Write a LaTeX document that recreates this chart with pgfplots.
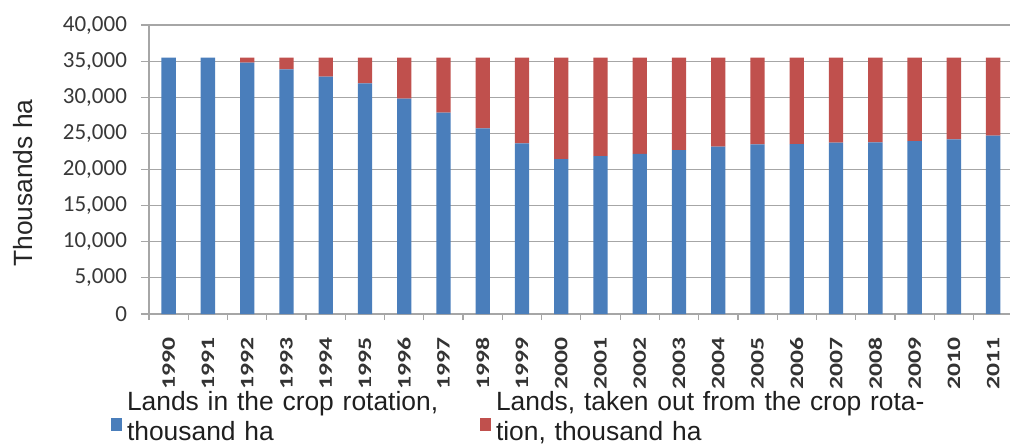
\documentclass[border=0pt]{standalone}
\usepackage{pgfplots}
\pgfplotsset{compat=1.18}
\usepackage{pgfplotstable}
\usepackage{fontspec}
\setmainfont{Liberation Sans}
\newfontfamily\carlito{Carlito}

\definecolor{barblue}{HTML}{4A7EBB}
\definecolor{barred}{HTML}{C0504D}
\definecolor{gridgray}{HTML}{A6A6A6}

\newcommand\yr[1]{\scalebox{1.35}[1]{#1}\kern4pt}

% year, lands in rotation, lands taken out (thousand ha)
\pgfplotstableread{
year inrot out
1990 35500 0
1991 35500 0
1992 34800 700
1993 33870 1630
1994 32850 2650
1995 31930 3570
1996 29800 5700
1997 27860 7640
1998 25700 9800
1999 23620 11880
2000 21450 14050
2001 21870 13630
2002 22150 13350
2003 22700 12800
2004 23160 12340
2005 23480 12020
2006 23530 11970
2007 23710 11790
2008 23760 11740
2009 23940 11560
2010 24180 11320
2011 24680 10820
}\landdata

\begin{document}
\begin{tikzpicture}
\pgfplotsset{
    sqlegend/.style={legend image code/.code={%
        \fill[##1] (0pt,-14.3pt) rectangle (5.5pt,-7.8pt);
        \path (8pt,-10pt);}}
}
\begin{axis}[
    name=ax, at={(0,0)}, anchor=south west,
    scale only axis, width=430.5pt, height=144.5pt,
    ybar stacked, bar width=7.15pt,
    xmin=-0.5, xmax=21.43, ymin=0, ymax=40000,
    axis x line*=bottom, axis y line*=left,
    axis line style={gridgray, line width=0.6pt},
    ymajorgrids, grid style={gridgray, line width=0.6pt},
    tick align=outside, major tick length=4pt, minor tick length=3pt,
    tick style={gridgray, line width=0.6pt},
    ytick={0,5000,...,40000}, scaled y ticks=false,
    yticklabel style={/pgf/number format/1000 sep={,}, /pgf/number format/assume math mode=true,
        font=\carlito\fontsize{11.5}{13}\selectfont, text=black!78, xshift=-3.5pt},
    xtick={0,...,21},
    xticklabels={\yr{1990},\yr{1991},\yr{1992},\yr{1993},\yr{1994},\yr{1995},\yr{1996},\yr{1997},
        \yr{1998},\yr{1999},\yr{2000},\yr{2001},\yr{2002},\yr{2003},\yr{2004},\yr{2005},
        \yr{2006},\yr{2007},\yr{2008},\yr{2009},\yr{2010},\yr{2011}},
    major x tick style={draw=none},
    minor xtick={-0.5,0.5,...,20.5},
    xticklabel style={rotate=90, anchor=east, font=\carlito\bfseries\fontsize{9.5}{10}\selectfont, text=black!80},
    every axis y label/.style={at={(axis description cs:-0.1463,0.453)}, rotate=90, anchor=center,
        font=\fontsize{13.2}{15}\selectfont, text=black!85},
    ylabel={Thousands ha},
    legend cell align=left,
    legend columns=2,
    legend style={at={(axis description cs:-0.0441,-0.2664)}, anchor=north west,
        draw=none, fill=none, inner sep=0pt, outer sep=0pt,
        font=\fontsize{13.2}{15}\selectfont, text=black!88,
        nodes={inner sep=0pt, align=left}},
]
\addplot[fill=barblue, draw=none, sqlegend] table[x expr=\coordindex, y=inrot] {\landdata};
\addlegendentry[text width=176.5pt]{Lands in the crop rotation,\\thousand ha}
\addplot[fill=barred, draw=none, sqlegend] table[x expr=\coordindex, y=out] {\landdata};
\addlegendentry[text width=230pt, xshift=4.5pt]{Lands, taken out from the crop rota-\\tion, thousand ha}
\end{axis}
\pgfresetboundingbox
\path[use as bounding box] (-74.5pt,-66.5pt) rectangle (430.5pt,157pt);
\end{tikzpicture}
\end{document}
